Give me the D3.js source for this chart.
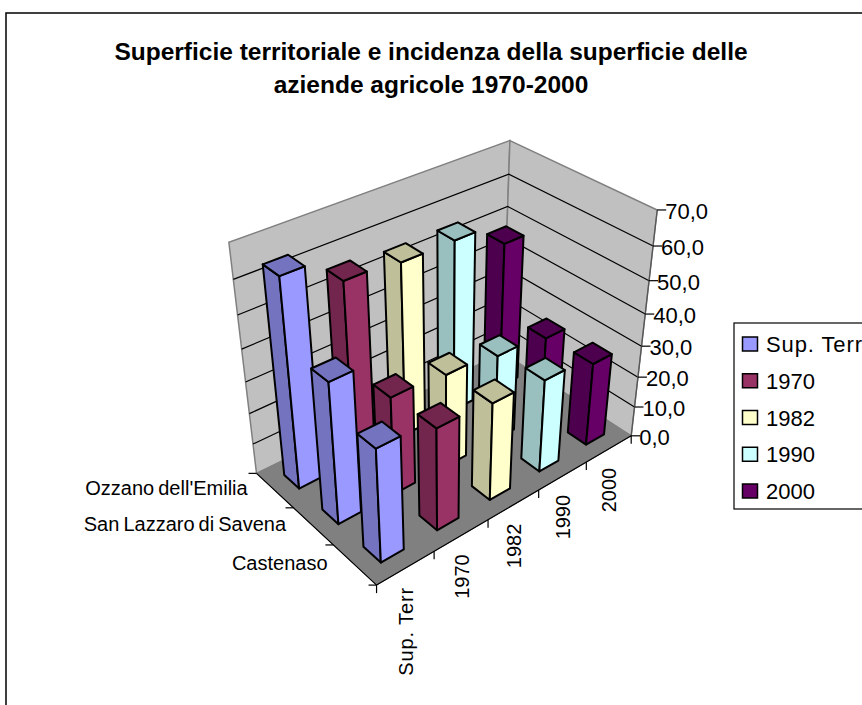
<!DOCTYPE html>
<html><head><meta charset="utf-8">
<style>html,body{margin:0;padding:0;background:#fff;overflow:hidden}svg{display:block}text{font-family:"Liberation Sans",Arial,sans-serif;fill:#000}</style>
<script src="https://cdn.jsdelivr.net/npm/d3@7/dist/d3.min.js"></script>
</head><body>
<script>
const titleLines = ["Superficie territoriale e incidenza della superficie delle","aziende agricole 1970-2000"];
const seriesNames = ["Sup. Terr","1970","1982","1990","2000"];
const categories = ["Castenaso","San Lazzaro di Savena","Ozzano dell'Emilia"];
const valCastenaso = [35.5,32.4,31.2,29.9,27];
const valSanLazzaro = [44.2,31.3,30,28,26];
const valOzzano = [64.5,56.4,55,55,47.7];
const valueTicks = [0,10,20,30,40,50,60,70];
const seriesFront = ["#9999FF","#993366","#FFFFCC","#CCFFFF","#660066"];
const seriesSide = ["#7373BF","#73264D","#BFBF99","#99BFBF","#4D004D"];

const W=862,H=705;
// Camera calibration from the plot box corners
const anchors=[[0,0,0,377,586],[1,0,0,631,435],[0,1,0,256,472],[1,1,0,503,354],[1,1,1,510,140],[0,1,1,229,243],[1,0,1,657,210]];
function solve(){
  const S=500,rows=[],rhs=[];
  anchors.forEach(([X,Y,Z,u,v])=>{u/=S;v/=S;
    rows.push([X,Y,Z,1,0,0,0,0,-u*X,-u*Y,-u*Z]);rhs.push(u);
    rows.push([0,0,0,0,X,Y,Z,1,-v*X,-v*Y,-v*Z]);rhs.push(v);});
  const n=11,A=d3.range(n).map(i=>d3.range(n+1).map(j=>{
    let s=0;rows.forEach((r,k)=>{s+=r[i]*(j<n?r[j]:rhs[k]);});return s;}));
  for(let i=0;i<n;i++){let m=i;for(let k=i+1;k<n;k++)if(Math.abs(A[k][i])>Math.abs(A[m][i]))m=k;
    [A[i],A[m]]=[A[m],A[i]];
    for(let k=0;k<n;k++){if(k===i)continue;const f=A[k][i]/A[i][i];for(let j=i;j<=n;j++)A[k][j]-=f*A[i][j];}}
  const p=A.map((r,i)=>r[n]/r[i]);
  return (X,Y,Z)=>{const w=p[8]*X+p[9]*Y+p[10]*Z+1;
    return [S*(p[0]*X+p[1]*Y+p[2]*Z+p[3])/w,S*(p[4]*X+p[5]*Y+p[6]*Z+p[7])/w];};
}
const proj=solve();
const xBand=d3.scaleBand().domain(seriesNames).range([0,1]).paddingInner(0.6).paddingOuter(0.3);
const yBand=d3.scaleBand().domain(categories).range([0,1]).paddingInner(0.6).paddingOuter(0.3);
const zScale=d3.scaleLinear().domain([0,70]).range([0,1]);
const poly=d3.line().curve(d3.curveLinearClosed);
const pl=pts=>poly(pts.map(p=>proj(...p)));
const wordSpaced=d=>isNaN(+d)?0.9:0;

const svg=d3.select("body").append("svg").attr("width",W).attr("height",H);
svg.append("rect").attr("x",6).attr("y",13).attr("width",W+20).attr("height",H+20).attr("fill","#fff").attr("stroke","#000").attr("stroke-width",1.5);

svg.selectAll("text.title").data(titleLines).join("text").attr("class","title")
  .attr("x",431).attr("y",(d,i)=>60+i*33).attr("text-anchor","middle")
  .attr("font-size",24.5).attr("font-weight","bold").text(d=>d);

// walls and floor
svg.append("path").attr("d",pl([[0,1,0],[1,1,0],[1,1,1],[0,1,1]])).attr("fill","#C0C0C0").attr("stroke","#808080").attr("stroke-width",1.5);
svg.append("path").attr("d",pl([[1,1,0],[1,0,0],[1,0,1],[1,1,1]])).attr("fill","#C0C0C0").attr("stroke","#808080").attr("stroke-width",1.5);
svg.append("path").attr("d",pl([[0,0,0],[1,0,0],[1,1,0],[0,1,0]])).attr("fill","#808080").attr("stroke","#808080");

// gridlines
svg.selectAll("path.grid").data(valueTicks.slice(1,-1)).join("path").attr("class","grid")
  .attr("fill","none").attr("stroke","#000").attr("stroke-width",1.2)
  .attr("d",v=>{const z=zScale(v);return d3.line()([proj(0,1,z),proj(1,1,z),proj(1,0,z)]);});

// axes
const axisG=svg.append("g").attr("stroke","#555").attr("stroke-width",1.2);
axisG.append("path").attr("fill","none").attr("d",d3.line()([proj(1,0,0),proj(1,0,1)]));
axisG.append("path").attr("fill","none").attr("stroke","#000").attr("d",d3.line()([proj(0,1,0),proj(0,0,0),proj(1,0,0)]));
svg.selectAll("line.vt").data(valueTicks).join("line").attr("class","vt").attr("stroke","#000").attr("stroke-width",1.2)
  .attr("x1",v=>proj(1,0,zScale(v))[0]).attr("x2",v=>proj(1,0,zScale(v))[0]+9)
  .attr("y1",v=>proj(1,0,zScale(v))[1]).attr("y2",v=>proj(1,0,zScale(v))[1]);
svg.selectAll("text.vl").data(valueTicks).join("text").attr("class","vl")
  .attr("x",v=>proj(1,0,zScale(v))[0]+8).attr("y",v=>proj(1,0,zScale(v))[1]+9)
  .attr("font-size",22).text(v=>d3.format(".1f")(v).replace(".",","));
const xStep=xBand.step(), yStep=yBand.step();
svg.selectAll("line.xt").data(d3.range(seriesNames.length+1)).join("line").attr("class","xt").attr("stroke","#000").attr("stroke-width",1.2)
  .attr("x1",i=>proj(i*xStep,0,0)[0]).attr("x2",i=>proj(i*xStep,0,0)[0])
  .attr("y1",i=>proj(i*xStep,0,0)[1]).attr("y2",i=>proj(i*xStep,0,0)[1]+8);
svg.selectAll("line.yt").data(d3.range(categories.length+1)).join("line").attr("class","yt").attr("stroke","#000").attr("stroke-width",1.2)
  .attr("x1",i=>proj(0,i*yStep,0)[0]).attr("x2",i=>proj(0,i*yStep,0)[0]-8)
  .attr("y1",i=>proj(0,i*yStep,0)[1]).attr("y2",i=>proj(0,i*yStep,0)[1]);
svg.selectAll("text.xl").data(seriesNames).join("text").attr("class","xl")
  .attr("font-size",20).attr("text-anchor","end").attr("letter-spacing",wordSpaced)
  .attr("transform",(d,i)=>{const p=proj((i+.5)*xStep,0,0);return `translate(${p[0]+7},${p[1]+19}) rotate(-90)`;}).text(d=>d);
svg.selectAll("text.yl").data(categories).join("text").attr("class","yl")
  .attr("font-size",20).attr("text-anchor","end").attr("word-spacing",-1.5)
  .attr("x",(d,i)=>proj(0,(i+.5)*yStep,0)[0]-27).attr("y",(d,i)=>proj(0,(i+.5)*yStep,0)[1]+5).text(d=>d);

// bars, far to near
const rowValues=[valCastenaso,valSanLazzaro,valOzzano];
const cells=[];
categories.forEach((c,ci)=>seriesNames.forEach((s,si)=>cells.push({c,s,si,ci,v:rowValues[ci][si]})));
cells.sort((a,b)=>(b.ci+b.si/5)-(a.ci+a.si/5));
const bars=svg.selectAll("g.bar").data(cells).join("g").attr("class","bar")
  .attr("stroke","#000").attr("stroke-width",2).attr("stroke-linejoin","round");
function corners(d){const x0=xBand(d.s),x1=x0+xBand.bandwidth(),y0=yBand(d.c),y1=y0+yBand.bandwidth(),z=zScale(d.v);return {x0,x1,y0,y1,z};}
bars.append("path").attr("fill",d=>seriesSide[d.si]).attr("d",d=>{const k=corners(d);return pl([[k.x0,k.y0,0],[k.x0,k.y1,0],[k.x0,k.y1,k.z],[k.x0,k.y0,k.z]]);});
bars.append("path").attr("fill",d=>seriesFront[d.si]).attr("d",d=>{const k=corners(d);return pl([[k.x0,k.y0,0],[k.x1,k.y0,0],[k.x1,k.y0,k.z],[k.x0,k.y0,k.z]]);});
bars.append("path").attr("fill",d=>seriesSide[d.si]).attr("d",d=>{const k=corners(d);return pl([[k.x0,k.y0,k.z],[k.x1,k.y0,k.z],[k.x1,k.y1,k.z],[k.x0,k.y1,k.z]]);});

// legend
const legend=svg.append("g");
legend.append("rect").attr("x",734).attr("y",323).attr("width",160).attr("height",186).attr("fill","#fff").attr("stroke","#000").attr("stroke-width",1.2);
const lg=d3.scalePoint().domain(seriesNames).range([344,491]);
legend.selectAll("rect.sw").data(seriesNames).join("rect").attr("class","sw")
  .attr("x",742.5).attr("y",d=>lg(d)-7).attr("width",15).attr("height",14)
  .attr("fill",(d,i)=>seriesFront[i]).attr("stroke","#000").attr("stroke-width",1.5);
legend.selectAll("text.lt").data(seriesNames).join("text").attr("class","lt")
  .attr("x",766).attr("y",d=>lg(d)+8).attr("font-size",22).attr("letter-spacing",wordSpaced).text(d=>d);
</script>
</body></html>
